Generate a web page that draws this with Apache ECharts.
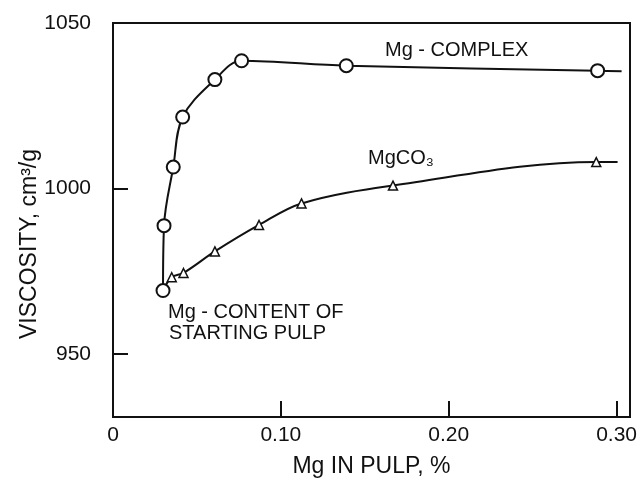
<!DOCTYPE html>
<html>
<head>
<meta charset="utf-8">
<script src="https://cdn.jsdelivr.net/npm/echarts@6/dist/echarts.min.js"></script>
<style>
  html, body { margin: 0; padding: 0; background: #fff; }
  #chart { width: 642px; height: 491px; }
</style>
</head>
<body>
<div id="chart"></div>
<script>
// Mg in pulp (%) and viscosity (cm3/g)
var complexX = [0.0298, 0.0304, 0.0359, 0.0415, 0.0607, 0.0766, 0.139, 0.2887, 0.303];
var complexY = [969.2, 988.8, 1006.5, 1021.6, 1032.9, 1038.6, 1037.1, 1035.6, 1035.4];
var carbX = [0.0298, 0.035, 0.042, 0.0607, 0.087, 0.1123, 0.1668, 0.2879, 0.3006];
var carbY = [969.2, 973.2, 974.5, 981.0, 989.0, 995.5, 1000.9, 1008.0, 1008.0];
// first point = starting pulp (shared), last point = end of drawn curve (no marker)
var xTicks = [0.1, 0.2, 0.3];
var xLabels = [0, 0.1, 0.2, 0.3];
var yTicks = [950, 1000, 1050];

var FONT = 'Liberation Sans';

function pairs(xs, ys, symFirst) {
  var out = [];
  for (var i = 0; i < xs.length; i++) {
    var item = { value: [xs[i], ys[i]] };
    if (i == xs.length - 1 || (i == 0 && !symFirst)) item.symbol = 'none';
    out.push(item);
  }
  return out;
}

var chart = echarts.init(document.getElementById('chart'));
chart.setOption({
  backgroundColor: '#fff',
  animation: false,
  grid: {
    left: 113, right: 12, top: 23, bottom: 74,
    show: true, borderColor: '#111', borderWidth: 2
  },
  xAxis: {
    type: 'value', min: 0, max: 0.308,
    name: 'Mg IN PULP, %', nameLocation: 'middle', nameGap: 38,
    nameTextStyle: { fontFamily: FONT, fontSize: 23, color: '#111' },
    splitLine: { show: false },
    axisLine: { lineStyle: { color: '#111', width: 2 } },
    axisTick: { inside: true, length: 16, customValues: xTicks, lineStyle: { color: '#111', width: 2 } },
    axisLabel: {
      customValues: xLabels, margin: 8, fontFamily: FONT, fontSize: 21, color: '#111',
      formatter: function (v) { return v == 0 ? '0' : v.toFixed(2); }
    }
  },
  yAxis: {
    type: 'value', min: 931, max: 1050,
    splitLine: { show: false },
    axisLine: { lineStyle: { color: '#111', width: 2 } },
    axisTick: { inside: true, length: 15, customValues: yTicks, lineStyle: { color: '#111', width: 2 } },
    axisLabel: {
      customValues: yTicks, margin: 22, fontFamily: FONT, fontSize: 21, color: '#111',
      formatter: function (v) { return String(v); }
    }
  },
  graphic: [
    { type: 'text', x: 30, y: 244, rotation: Math.PI / 2,
      style: { text: 'VISCOSITY, cm³/g', fontFamily: FONT, fontSize: 23, fill: '#111', align: 'center', verticalAlign: 'middle' } },
    { type: 'text', x: 385, y: 50,
      style: { text: 'Mg - COMPLEX', fontFamily: FONT, fontSize: 20, fill: '#111', verticalAlign: 'middle' } },
    { type: 'text', x: 368, y: 158,
      style: { text: 'MgCO₃', fontFamily: FONT, fontSize: 20, fill: '#111', verticalAlign: 'middle' } },
    { type: 'text', x: 168, y: 312,
      style: { text: 'Mg - CONTENT OF', fontFamily: FONT, fontSize: 20, fill: '#111', verticalAlign: 'middle' } },
    { type: 'text', x: 169, y: 333,
      style: { text: 'STARTING PULP', fontFamily: FONT, fontSize: 20, fill: '#111', verticalAlign: 'middle' } }
  ],
  series: [
    {
      name: 'Mg-COMPLEX', type: 'line', smooth: 0.35, z: 3,
      data: pairs(complexX, complexY, true),
      symbol: 'circle', symbolSize: 13,
      lineStyle: { color: '#111', width: 2 },
      itemStyle: { color: '#fff', borderColor: '#111', borderWidth: 2 }
    },
    {
      name: 'MgCO3', type: 'line', smooth: 0.35, z: 2,
      data: pairs(carbX, carbY, false),
      symbol: 'triangle', symbolSize: 9,
      lineStyle: { color: '#111', width: 2 },
      itemStyle: { color: '#fff', borderColor: '#111', borderWidth: 1.5 }
    }
  ]
});
</script>
</body>
</html>
